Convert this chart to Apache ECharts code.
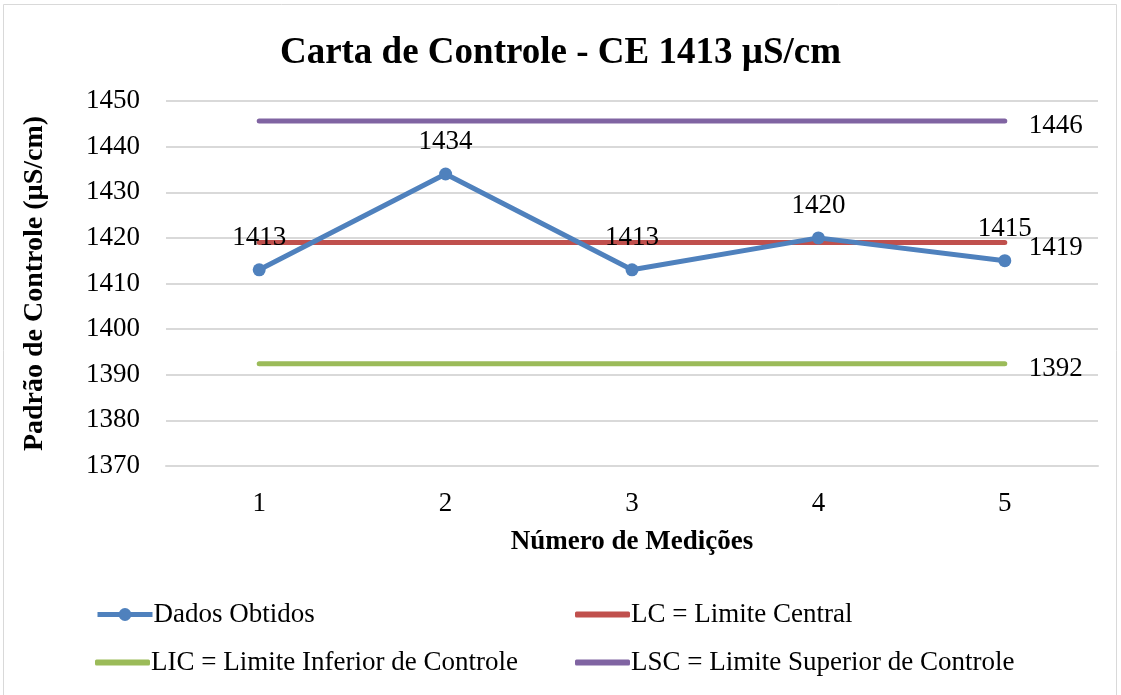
<!DOCTYPE html>
<html><head><meta charset="utf-8">
<script src="https://cdn.jsdelivr.net/npm/echarts@6/dist/echarts.min.js"></script>
<style>html,body{margin:0;padding:0;background:#fff}#c{width:1121px;height:695px}</style>
</head><body><div id="c"></div>
<script>
const categories = ['1','2','3','4','5'];
const dados = [1413, 1434, 1413, 1420, 1415];
const lc  = [1419, 1419, 1419, 1419, 1419];
const lic = [1392.4, 1392.4, 1392.4, 1392.4, 1392.4];
const lsc = [1445.6, 1445.6, 1445.6, 1445.6, 1445.6];
const yTicks = {min: 1370, max: 1450, interval: 10};

const F = '"Liberation Serif", "Times New Roman", serif';
const FS = 27;
const chart = echarts.init(document.getElementById('c'));
function limitSeries(name, data, color) {
  return {
    name, type: 'line', data, symbol: 'none',
    lineStyle: {color, width: 5, cap: 'round'}, itemStyle: {color},
    endLabel: {show: true, distance: 24, offset: [0, 5], fontFamily: F, fontSize: FS, color: '#000',
      formatter: p => String(Math.round(p.value))},
    z: 2
  };
}
function leg(name, left, top, isLimit) {
  const item = isLimit ? {name, icon: 'roundRect'} : {name};
  return {data: [item], left, top, itemWidth: 55, itemHeight: isLimit ? 6 : 16, itemGap: 2, padding: 0,
    lineStyle: {width: 5}, itemStyle: {borderWidth: 0},
    textStyle: {fontFamily: F, fontSize: FS, color: '#000', padding: [0, 0, 0, -4]}};
}
chart.setOption({
  animation: false,
  graphic: [{type: 'rect', shape: {x: 3.5, y: 4.5, width: 1113, height: 700}, style: {fill: 'none', stroke: '#d9d9d9', lineWidth: 1}}],
  title: {text: 'Carta de Controle - CE 1413 µS/cm', left: 'center', top: 30,
    textStyle: {fontFamily: F, fontSize: 37, fontWeight: 'bold', color: '#000'}},
  legend: [
    leg('Dados Obtidos', 95, 601, false),
    leg('LC = Limite Central', 575, 601, true),
    leg('LIC = Limite Inferior de Controle', 95, 649, true),
    leg('LSC = Limite Superior de Controle', 575, 649, true)
  ],
  grid: {left: 166, right: 23, top: 101, bottom: 229},
  xAxis: {type: 'category', data: categories, boundaryGap: true,
    axisLine: {show: true, lineStyle: {color: '#d9d9d9', width: 2}}, axisTick: {show: false},
    axisLabel: {fontFamily: F, fontSize: FS, color: '#000', margin: 24},
    name: 'Número de Medições', nameLocation: 'middle', nameGap: 63,
    nameTextStyle: {fontFamily: F, fontSize: FS, fontWeight: 'bold', color: '#000'}},
  yAxis: {type: 'value', min: yTicks.min, max: yTicks.max, interval: yTicks.interval,
    axisLine: {show: false}, axisTick: {show: false},
    splitLine: {lineStyle: {color: '#d9d9d9', width: 2}},
    axisLabel: {fontFamily: F, fontSize: FS, color: '#000', margin: 26, formatter: v => String(v)},
    name: 'Padrão de Controle (µS/cm)', nameLocation: 'middle', nameGap: 117, nameRotate: 90,
    nameTextStyle: {fontFamily: F, fontSize: 28, fontWeight: 'bold', color: '#000'}},
  series: [
    {name: 'Dados Obtidos', type: 'line', data: dados, symbol: 'circle', symbolSize: 13,
      lineStyle: {color: '#4f81bd', width: 5}, itemStyle: {color: '#4f81bd'},
      label: {show: true, position: 'top', distance: 12, fontFamily: F, fontSize: FS, color: '#000'}, z: 3},
    limitSeries('LC = Limite Central', lc, '#c0504d'),
    limitSeries('LIC = Limite Inferior de Controle', lic, '#9bbb59'),
    limitSeries('LSC = Limite Superior de Controle', lsc, '#8064a2')
  ]
});
</script></body></html>
